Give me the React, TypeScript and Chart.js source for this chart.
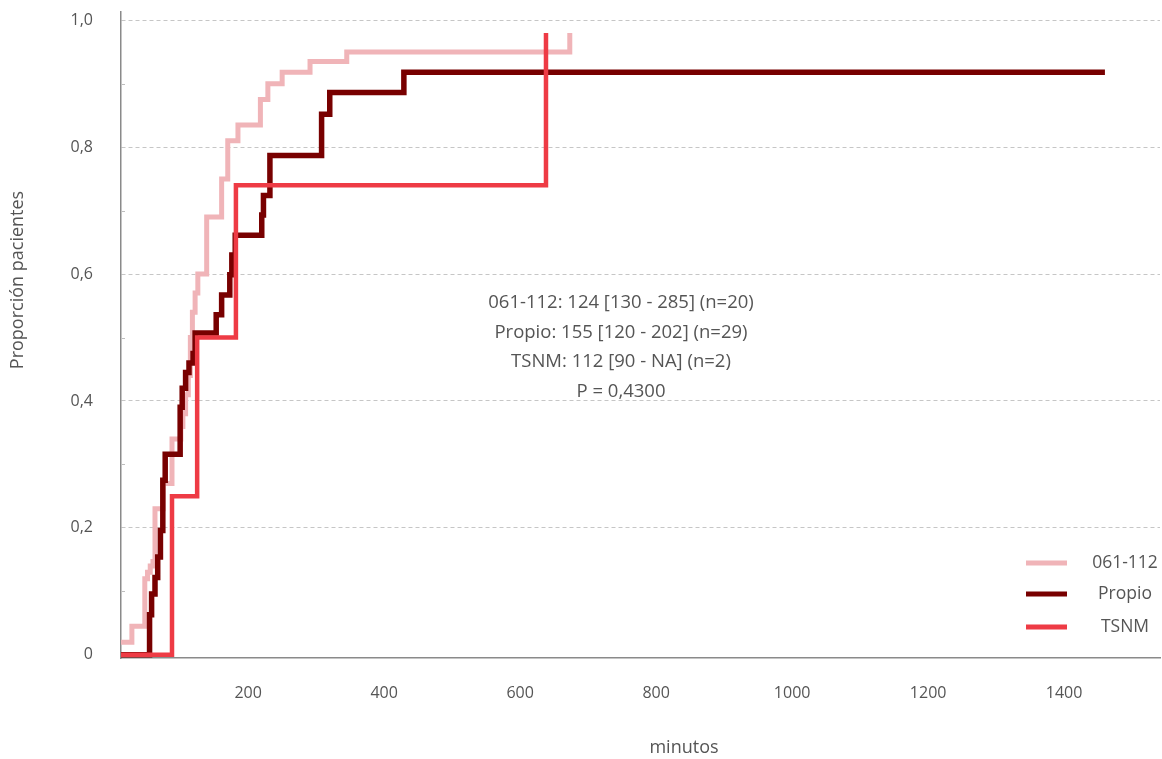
import React, { useEffect, useRef } from "react";
import { Chart, registerables } from "chart.js";

Chart.register(...registerables);

// ---- data ----
const seriesLabels = ["061-112", "Propio", "TSNM"];

const times061 = [13, 29, 48, 52, 56, 60, 63, 75, 88, 101, 104, 108, 112, 115, 118, 122, 126, 139, 161, 170, 185, 218, 229, 250, 291, 345, 673];
const values061 = [0.02, 0.045, 0.12, 0.13, 0.14, 0.147, 0.23, 0.27, 0.34, 0.36, 0.38, 0.41, 0.44, 0.5, 0.54, 0.57, 0.6, 0.69, 0.75, 0.81, 0.835, 0.875, 0.9, 0.918, 0.935, 0.95, 0.98];

const timesPropio = [13, 55, 58, 63, 67, 71, 74.5, 78, 100, 103, 108, 113, 119, 122, 153, 161, 173, 176, 181, 220, 222.5, 232, 308, 320, 429, 1460];
const valuesPropio = [0, 0.063, 0.096, 0.122, 0.154, 0.196, 0.275, 0.316, 0.39, 0.42, 0.445, 0.46, 0.475, 0.507, 0.536, 0.567, 0.599, 0.63, 0.661, 0.693, 0.724, 0.787, 0.852, 0.886, 0.918, 0.918];

const timesTSNM = [13, 88, 125, 182, 638];
const valuesTSNM = [0, 0.25, 0.5, 0.74, 0.98];

const yTicks = [0, 0.2, 0.4, 0.6, 0.8, 1.0];
const yMinorTicks = [0.1, 0.3, 0.5, 0.7, 0.9];
const xTicks = [200, 400, 600, 800, 1000, 1200, 1400];

const summaryLines = [
  "061-112: 124 [130 - 285] (n=20)",
  "Propio: 155 [120 - 202] (n=29)",
  "TSNM: 112 [90 - NA] (n=2)",
  "P = 0,4300",
];
const xTitle = "minutos";
const yTitle = "Proporción pacientes";

// ---- styles ----
const colors = ["#f0b4b8", "#780000", "#ee3b45"];
const widths = [5, 5.5, 4.5];
const drawOrder = [2, 1, 0];
const textColor = "#555555";
const fontFamily = "'Open Sans', sans-serif";

const toPoints = (xs: number[], ys: number[]) => xs.map((x, i) => ({ x, y: ys[i] }));

const decorPlugin = {
  id: "decor",
  afterDraw(chart: any) {
    const { ctx, chartArea, scales } = chart;
    const y = scales.y;
    ctx.save();
    ctx.strokeStyle = "#bdbdbd";
    ctx.lineWidth = 1;
    yMinorTicks.forEach((v) => {
      const py = Math.round(y.getPixelForValue(v)) + 0.5;
      ctx.beginPath();
      ctx.moveTo(chartArea.left + 1, py);
      ctx.lineTo(chartArea.left + 4, py);
      ctx.stroke();
    });
    ctx.fillStyle = textColor;
    ctx.textAlign = "center";
    ctx.textBaseline = "middle";
    ctx.font = `500 18.5px ${fontFamily}`;
    const sy = [303, 333, 362, 392];
    summaryLines.forEach((s, i) => ctx.fillText(s, 621, sy[i]));
    ctx.font = `400 18px ${fontFamily}`;
    ctx.fillText(xTitle, 684, 748);
    ctx.save();
    ctx.translate(18, 280);
    ctx.rotate(-Math.PI / 2);
    ctx.fillText(yTitle, 0, 0);
    ctx.restore();
    const ly = [563, 594, 627];
    chart.data.datasets.forEach((ds: any, i: number) => {
      ctx.strokeStyle = ds.borderColor;
      ctx.lineWidth = 5;
      ctx.beginPath();
      ctx.moveTo(1026, ly[i]);
      ctx.lineTo(1067, ly[i]);
      ctx.stroke();
      ctx.fillStyle = textColor;
      ctx.font = `400 17.5px ${fontFamily}`;
      ctx.fillText(ds.label, 1125, ly[i]);
    });
    ctx.restore();
  },
};

export default function App() {
  const ref = useRef<HTMLCanvasElement | null>(null);
  useEffect(() => {
    if (!ref.current) return;
    const series = [
      toPoints(times061, values061),
      toPoints(timesPropio, valuesPropio),
      toPoints(timesTSNM, valuesTSNM),
    ];
    const chart = new Chart(ref.current, {
      type: "line",
      data: {
        datasets: series.map((data, i) => ({
          label: seriesLabels[i],
          data,
          borderColor: colors[i],
          backgroundColor: colors[i],
          borderWidth: widths[i],
          stepped: "before" as const,
          pointRadius: 0,
          pointHoverRadius: 0,
          fill: false,
          tension: 0,
          order: drawOrder[i],
          borderJoinStyle: "miter" as const,
          borderCapStyle: "butt" as const,
        })),
      },
      options: {
        animation: false,
        responsive: true,
        maintainAspectRatio: false,
        layout: { padding: { left: 0, top: 12, right: 2, bottom: 0 } },
        plugins: { legend: { display: false }, tooltip: { enabled: false } },
        scales: {
          x: {
            type: "linear",
            min: 13,
            max: 1541,
            afterBuildTicks: (s: any) => {
              s.ticks = xTicks.map((v) => ({ value: v }));
            },
            afterFit: (s: any) => {
              s.height = 101;
            },
            grid: { display: true, drawOnChartArea: false, drawTicks: true, tickLength: 26, tickColor: "rgba(0,0,0,0)" },
            border: { display: true, color: "#8a8a8a", width: 1.5 },
            ticks: {
              padding: 0,
              color: textColor,
              font: { family: fontFamily, size: 16 },
              maxRotation: 0,
              callback: (v: any) => String(v),
            },
          },
          y: {
            type: "linear",
            min: -0.005,
            max: 1.013,
            afterBuildTicks: (s: any) => {
              s.ticks = yTicks.map((v) => ({ value: v }));
            },
            afterFit: (s: any) => {
              s.width = 121;
            },
            grid: {
              drawTicks: true,
              tickLength: 28,
              tickColor: "rgba(0,0,0,0)",
              color: (c: any) => (c.tick && c.tick.value === 0 ? "rgba(0,0,0,0)" : "#c6c6c6"),
              lineWidth: 1,
            },
            border: { display: true, color: "#8a8a8a", width: 1.5, dash: [4, 3] },
            ticks: {
              padding: 0,
              color: textColor,
              font: { family: fontFamily, size: 16 },
              callback: (v: any) => (v === 0 ? "0" : Number(v).toFixed(1).replace(".", ",")),
            },
          },
        },
      },
      plugins: [decorPlugin],
    });
    return () => chart.destroy();
  }, []);
  return (
    <div style={{ position: "absolute", left: 0, top: 0, width: 1162, height: 759, background: "#fff" }}>
      <canvas ref={ref} />
    </div>
  );
}
